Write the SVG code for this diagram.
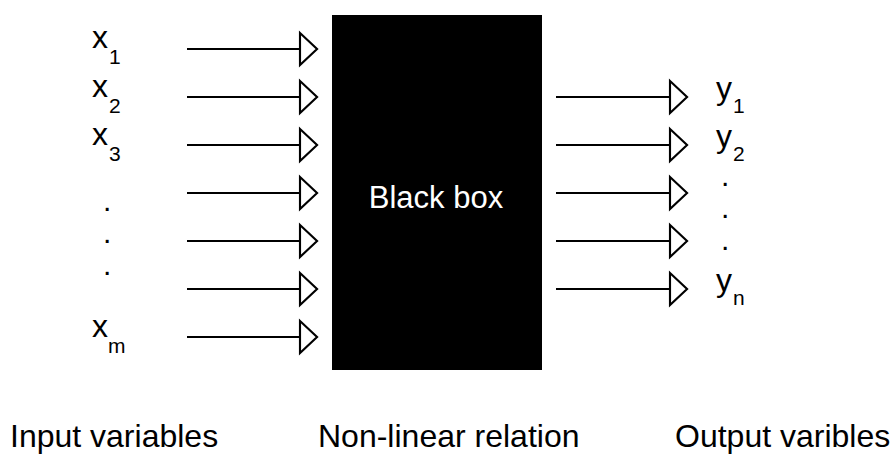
<svg xmlns="http://www.w3.org/2000/svg" width="893" height="455" viewBox="0 0 893 455">
<style>
.t{font-family:"Liberation Sans",Arial,sans-serif;fill:#000}
.v{font-size:32px}
.s{font-size:21px}
.d{font-size:30px}
.lb{font-size:32px}
.c{stroke:#000;stroke-width:2;fill:none}
</style>
<defs>
<marker id="ah" markerUnits="userSpaceOnUse" markerWidth="18" markerHeight="32" viewBox="0 0 16 30" refX="0" refY="15" orient="auto" overflow="visible">
<path d="M0,0 L16,15 L0,30 Z" fill="#fff" stroke="#000" stroke-width="2"/>
</marker>
</defs>
<rect width="893" height="455" fill="#fff"/>
<g id="blackbox">
<rect x="332" y="15" width="210" height="355" fill="#000"/>
<text class="t lb" x="436" y="208" text-anchor="middle" style="fill:#fff;font-size:31px">Black box</text>
</g>
<g id="inputs">
<text class="t v" x="92" y="48">x</text><text class="t s" x="109" y="64">1</text>
<text class="t v" x="92" y="97">x</text><text class="t s" x="109" y="113">2</text>
<text class="t v" x="92" y="145">x</text><text class="t s" x="109" y="161">3</text>
<text class="t d" x="103" y="211">.</text>
<text class="t d" x="103" y="243">.</text>
<text class="t d" x="103" y="275">.</text>
<text class="t v" x="92" y="337">x</text><text class="t s" x="108" y="353">m</text>
</g>
<g id="outputs">
<text class="t v" x="716" y="99">y</text><text class="t s" x="733" y="113">1</text>
<text class="t v" x="716" y="147">y</text><text class="t s" x="733" y="161">2</text>
<text class="t d" x="721" y="186">.</text>
<text class="t d" x="721" y="218">.</text>
<text class="t d" x="721" y="250">.</text>
<text class="t v" x="716" y="291">y</text><text class="t s" x="733" y="305">n</text>
</g>
<g id="connectors" class="c">
<line x1="187" y1="49" x2="300" y2="49" marker-end="url(#ah)"/>
<line x1="187" y1="97" x2="300" y2="97" marker-end="url(#ah)"/>
<line x1="187" y1="145" x2="300" y2="145" marker-end="url(#ah)"/>
<line x1="187" y1="193" x2="300" y2="193" marker-end="url(#ah)"/>
<line x1="187" y1="241" x2="300" y2="241" marker-end="url(#ah)"/>
<line x1="187" y1="289" x2="300" y2="289" marker-end="url(#ah)"/>
<line x1="187" y1="337" x2="300" y2="337" marker-end="url(#ah)"/>
<line x1="556" y1="97" x2="670" y2="97" marker-end="url(#ah)"/>
<line x1="556" y1="145" x2="670" y2="145" marker-end="url(#ah)"/>
<line x1="556" y1="193" x2="670" y2="193" marker-end="url(#ah)"/>
<line x1="556" y1="241" x2="670" y2="241" marker-end="url(#ah)"/>
<line x1="556" y1="289" x2="670" y2="289" marker-end="url(#ah)"/>
</g>
<g id="labels">
<text class="t lb" x="10" y="447">Input variables</text>
<text class="t lb" x="318" y="447">Non-linear relation</text>
<text class="t lb" x="675" y="447">Output varibles</text>
</g>
</svg>
